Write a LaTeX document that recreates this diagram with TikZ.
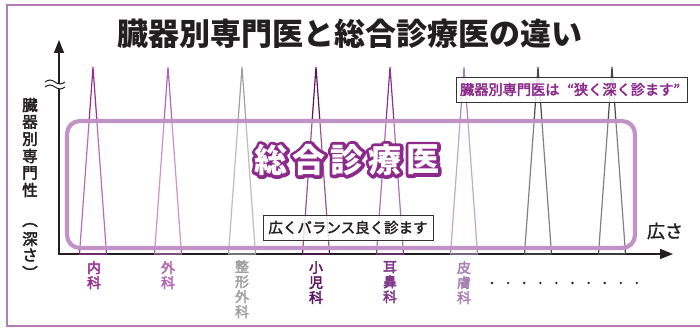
\documentclass[tikz,border=0pt]{standalone}
\usepackage{fontspec}
\setmainfont{Noto Sans CJK JP}
\usetikzlibrary{arrows.meta}
\definecolor{framec}{HTML}{B57BB5}
\definecolor{titlec}{HTML}{231F20}
\definecolor{cA}{HTML}{9A2F92}
\definecolor{cB}{HTML}{B265B3}
\definecolor{cC}{HTML}{A0A0A0}
\definecolor{cD}{HTML}{5E1560}
\definecolor{cE}{HTML}{82388A}
\definecolor{cF}{HTML}{A982B5}
\definecolor{cG}{HTML}{4A4A4A}
\definecolor{boxc}{HTML}{C192C5}
\definecolor{sogoc}{HTML}{8C2A8C}
\newcommand{\strokeon}{\special{pdf:literal direct 1 Tr 6.4 w 1 j 0.549 0.165 0.549 RG}}
\newcommand{\strokeoff}{\special{pdf:literal direct 0 Tr}}
% medium weight by thin stroke: #1 = width, #2 = r g b
\newcommand{\medw}[2]{\special{pdf:literal direct 2 Tr #1 w 1 j #2 RG}}
\tikzset{
  axisline/.style={draw=titlec, line width=1.5, -{Triangle[width=10,length=13]}},
  spike/.style={line width=1.2},
  deptlabel/.style={anchor=north, inner sep=0, align=center, font=\fontsize{14}{15}\selectfont},
  notebox/.style={draw=black!80, line width=0.9, fill=white, fill opacity=0.8, text opacity=1, inner sep=0, minimum height=25},
  bigchar/.style={inner sep=0, font=\fontsize{33}{33}\selectfont\bfseries},
  vchar/.style={inner sep=0, text=titlec, font=\fontsize{15.5}{15.5}\selectfont},
}
\begin{document}
\begin{tikzpicture}[x=1pt,y=-1pt]
\useasboundingbox (0,0) rectangle (700,328);
% frame
\draw[framec, line width=1.2] (703,5) -- (7,5) -- (7,326) -- (703,326);
% title
\node[font=\fontsize{31}{31}\selectfont\bfseries, text=titlec, inner sep=0] (title) at (350,34) {臓器別専門医と総合診療医の違い};
% axes
\coordinate (origin) at (59,254);
\coordinate (ytip) at (59,40);
\coordinate (xtip) at (673,254);
\draw[axisline] (origin) -- (ytip);
\draw[axisline] (57.5,254) -- (xtip);
% break mark
\fill[white] (54,84.3) rectangle (64,88.7);
\draw[titlec, line width=1] (45,82) sin (50,80) cos (55,82) sin (60,84) cos (65,82);
\draw[titlec, line width=1] (45,87) sin (50,85) cos (55,87) sin (60,89) cos (65,87);
% spikes
\foreach \x/\c in {93/cA,168/cB,242/cC,316/cD,390/cE,464/cF,538/cG,612/cG}{
  \draw[spike, \c] (\x-13.5,254) -- (\x,67) -- (\x+13.5,254) -- cycle;
}
% general box
\draw[boxc, line width=4.2, rounded corners=13, fill=white, fill opacity=0.3] (67,121) rectangle (635,248);
% big text with outline
\foreach \ch [count=\i] in {総,合,診,療,医}{
  \node[bigchar, text=sogoc] (bigo\i) at ({271+(\i-1)*38},160) {\strokeon\ch\strokeoff};
  \node[bigchar, text=white] (big\i) at ({271+(\i-1)*38},160) {\ch};
}
% note boxes
\node[notebox, minimum width=231, text=sogoc, font=\fontsize{14.2}{14.2}\selectfont] (narrow) at (571.5,89.5) {\medw{0.4}{0.549 0.165 0.549}臓器別専門医は\kern0.55em“狭く深く診ます”\kern0.2em\strokeoff};
\node[notebox, minimum width=170, text=titlec, font=\fontsize{14.5}{14.5}\selectfont] (broad) at (348,227.5) {\medw{0.3}{0.137 0.122 0.125}広くバランス良く診ます\strokeoff};
% axis labels
\node[text=titlec, inner sep=0, font=\fontsize{18}{18}\selectfont] (xlabel) at (665,231) {\medw{0.3}{0.137 0.122 0.125}広さ\strokeoff};
\foreach \ch/\yy [count=\i] in {臓/105,器/122,別/139,専/156,門/173,性/190,深/239,さ/255}{
  \node[vchar] (yl\i) at (30,\yy) {\medw{0.45}{0.137 0.122 0.125}\ch\strokeoff};
}
\node[vchar, rotate=-90] (ylp1) at (30,220) {\medw{0.45}{0.137 0.122 0.125}（\strokeoff};
\node[vchar, rotate=-90] (ylp2) at (30,273) {\medw{0.45}{0.137 0.122 0.125}）\strokeoff};
% department labels
\node[deptlabel, text=cA] (d1) at (94,261) {\medw{0.4}{0.604 0.184 0.573}内\\科\strokeoff};
\node[deptlabel, text=cB] (d2) at (168,261) {\medw{0.4}{0.698 0.396 0.702}外\\科\strokeoff};
\node[deptlabel, text=cC] (d3) at (242,260) {\medw{0.4}{0.627 0.627 0.627}整\\形\\外\\科\strokeoff};
\node[deptlabel, text=cD] (d4) at (316,261) {\medw{0.4}{0.369 0.082 0.376}小\\児\\科\strokeoff};
\node[deptlabel, text=cE] (d5) at (390,261) {\medw{0.4}{0.510 0.220 0.541}耳\\鼻\\科\strokeoff};
\node[deptlabel, text=cF] (d6) at (464,261) {\medw{0.4}{0.663 0.510 0.710}皮\\膚\\科\strokeoff};
% dots
\foreach \i in {0,...,9}{
  \fill[titlec] ({492+\i*16.1},283) circle (1.3);
}
\end{tikzpicture}
\end{document}
